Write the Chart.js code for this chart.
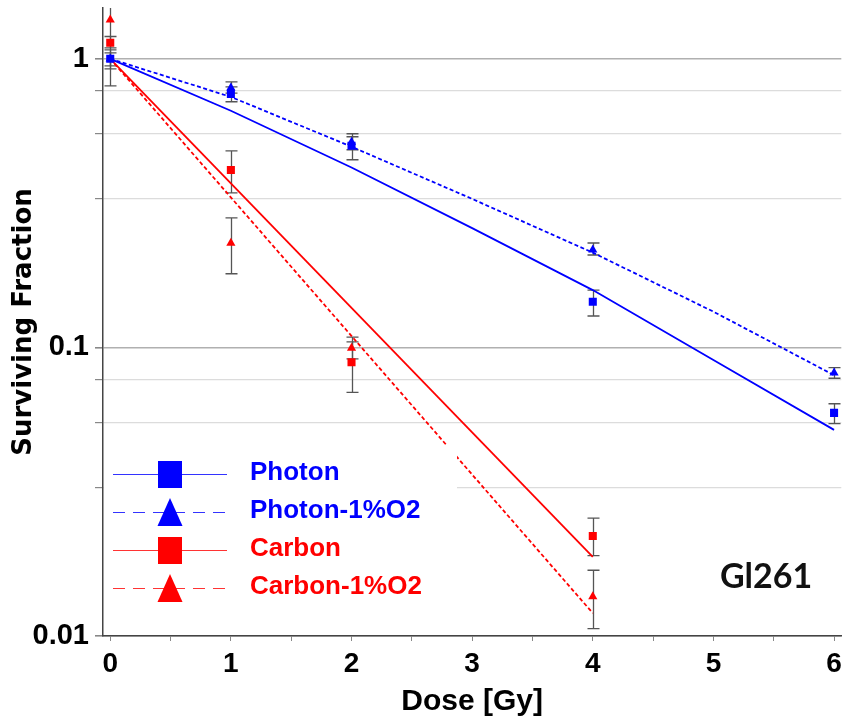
<!DOCTYPE html>
<html><head><meta charset="utf-8">
<script src="https://cdn.jsdelivr.net/npm/chart.js@4/dist/chart.umd.min.js"></script>
<style>html,body{margin:0;padding:0;background:#fff;}#wrap{width:847px;height:722px;}</style>
</head><body><div id="wrap"><canvas id="c" width="847" height="722"></canvas></div>
<script>
// ---------- data ----------
const seriesNames = ['Photon', 'Photon-1%O2', 'Carbon', 'Carbon-1%O2'];
const photonDoses = [0, 1, 2, 4, 6];
const carbonDoses = [0, 1, 2, 4];

const photonSF   = [1.0, 0.756, 0.500, 0.144, 0.0593];
const photonLo   = [0.946, 0.71, 0.447, 0.1285, 0.0544];
const photonHi   = [1.049, 0.80, 0.537, 0.158, 0.0638];

const photonO2SF = [1.0, 0.793, 0.515, 0.218, 0.0816];
const photonO2Lo = [0.923, 0.76, 0.484, 0.209, 0.0782];
const photonO2Hi = [1.074, 0.832, 0.55, 0.230, 0.0851];

const carbonSF   = [1.137, 0.412, 0.0889, 0.0222];
const carbonLo   = [1.092, 0.343, 0.0698, 0.0190];
const carbonHi   = [1.195, 0.480, 0.1045, 0.0256];

const carbonO2SF = [1.365, 0.230, 0.0995, 0.0137];
const carbonO2Lo = [0.806, 0.180, 0.0912, 0.0106];
const carbonO2Hi = [1.88, 0.281, 0.1086, 0.0169];

// fitted curves
const photonFitDoses = [0, 1, 2, 3, 4, 5, 6];
const photonFit      = [1.0, 0.661, 0.42, 0.259, 0.158, 0.0905, 0.0518];
const photonO2Fit    = [1.0, 0.738, 0.496, 0.327, 0.213, 0.133, 0.0801];
const carbonFitDoses = [0, 4];
const carbonFit      = [1.0, 0.0188];
const carbonO2Fit    = [1.0, 0.0120];

// axis ticks
const xTickValues = [0, 0.5, 1, 1.5, 2, 2.5, 3, 3.5, 4, 4.5, 5, 5.5, 6];
const xTickLabels = ['0', '', '1', '', '2', '', '3', '', '4', '', '5', '', '6'];
const yTickValues = [0.01, 0.0327, 0.055, 0.0775, 0.1, 0.327, 0.55, 0.775, 1];
const yTickLabels = ['0.01', '', '', '', '0.1', '', '', '', '1'];
const yMajor = [0.01, 0.1, 1];
const cellLineLabel = 'Gl261';

// ---------- build ----------
const BLUE = '#0000ff', RED = '#ff0000';
const pts = (xs, ys) => xs.map((x, i) => ({x: x, y: ys[i]}));

function fitDs(label, xs, ys, color, dashed) {
  return {type: 'line', label: label, data: pts(xs, ys), borderColor: color, backgroundColor: color,
    borderWidth: 1.8, borderDash: dashed ? [4, 2.5] : [], pointRadius: 0, tension: 0, order: 20, fill: false};
}
function markDs(label, xs, ys, lo, hi, color, style, order, row, dashed) {
  return {type: 'scatter', label: label, data: pts(xs, ys), errLo: lo, errHi: hi,
    pointStyle: style, pointRadius: style === 'rect' ? 5.7 : 5.3, pointBorderWidth: 0,
    backgroundColor: color, borderColor: color, order: order, legendRow: row, legendDashed: dashed, isMarker: true};
}

const datasets = [
  fitDs(seriesNames[0] + ' fit', photonFitDoses, photonFit, BLUE, false),
  fitDs(seriesNames[1] + ' fit', photonFitDoses, photonO2Fit, BLUE, true),
  fitDs(seriesNames[2] + ' fit', carbonFitDoses, carbonFit, RED, false),
  fitDs(seriesNames[3] + ' fit', carbonFitDoses, carbonO2Fit, RED, true),
  markDs(seriesNames[0], photonDoses, photonSF, photonLo, photonHi, BLUE, 'rect', 3, 0, false),
  markDs(seriesNames[1], photonDoses, photonO2SF, photonO2Lo, photonO2Hi, BLUE, 'triangle', 0, 1, true),
  markDs(seriesNames[2], carbonDoses, carbonSF, carbonLo, carbonHi, RED, 'rect', 2, 2, false),
  markDs(seriesNames[3], carbonDoses, carbonO2SF, carbonO2Lo, carbonO2Hi, RED, 'triangle', 1, 3, true)
];

const errorBars = {
  id: 'errorBars',
  beforeDatasetsDraw(chart) {
    const ctx = chart.ctx, xs = chart.scales.x, ys = chart.scales.y, a = chart.chartArea;
    ctx.save();
    ctx.beginPath(); ctx.rect(a.left, a.top, a.right - a.left, a.bottom - a.top); ctx.clip();
    ctx.strokeStyle = '#555'; ctx.lineWidth = 1.3;
    chart.data.datasets.forEach(ds => {
      if (!ds.errLo) return;
      ds.data.forEach((p, i) => {
        const x = Math.round(xs.getPixelForValue(p.x)) + 0.5;
        const y1 = ys.getPixelForValue(ds.errLo[i]);
        const y2 = ys.getPixelForValue(ds.errHi[i]);
        ctx.beginPath();
        ctx.moveTo(x, y1); ctx.lineTo(x, y2);
        ctx.moveTo(x - 6, y1); ctx.lineTo(x + 6, y1);
        ctx.moveTo(x - 6, y2); ctx.lineTo(x + 6, y2);
        ctx.stroke();
      });
    });
    ctx.restore();
  }
};

const boxLegend = {
  id: 'boxLegend',
  afterDatasetsDraw(chart) {
    const ctx = chart.ctx, a = chart.chartArea;
    ctx.save();
    ctx.fillStyle = '#ffffff';
    ctx.fillRect(a.left + 1, 445, 457 - a.left - 1, 175);
    const rowY = [474, 512, 550, 588];
    chart.data.datasets.filter(d => d.isMarker).forEach(ds => {
      const y = rowY[ds.legendRow];
      ctx.strokeStyle = ds.borderColor; ctx.lineWidth = 1.2;
      ctx.globalAlpha = 0.8;
      ctx.setLineDash(ds.legendDashed ? [12, 8] : []);
      ctx.beginPath(); ctx.moveTo(113, y + 0.5); ctx.lineTo(227, y + 0.5); ctx.stroke();
      ctx.setLineDash([]); ctx.globalAlpha = 1;
      ctx.fillStyle = ds.backgroundColor;
      if (ds.pointStyle === 'rect') {
        ctx.fillRect(158, y - 13, 24, 27);
      } else {
        ctx.beginPath(); ctx.moveTo(170, y - 14); ctx.lineTo(182.5, y + 14); ctx.lineTo(157.5, y + 14); ctx.closePath(); ctx.fill();
      }
      ctx.font = 'bold 26px "Liberation Sans", Arial, sans-serif';
      ctx.textBaseline = 'alphabetic'; ctx.textAlign = 'left';
      ctx.fillText(ds.label, 250, y + 6);
    });
    ctx.restore();
  },
  afterDraw(chart) {
    const ctx = chart.ctx;
    ctx.save();
    ctx.fillStyle = '#111';
    ctx.font = 'bold 34px Lato, "Open Sans", sans-serif';
    ctx.textAlign = 'center'; ctx.textBaseline = 'middle';
    ctx.fillText(cellLineLabel, 766, 577);
    ctx.restore();
  }
};

Chart.defaults.font.family = '"Liberation Sans", Arial, sans-serif';
Chart.defaults.color = '#000';

new Chart(document.getElementById('c'), {
  type: 'scatter',
  data: {datasets: datasets},
  options: {
    responsive: false, animation: false, devicePixelRatio: 1,
    layout: {padding: {top: 8, right: 2, left: 0, bottom: 0}},
    plugins: {legend: {display: false}, tooltip: {enabled: false}},
    scales: {
      x: {
        type: 'linear', min: -0.06, max: 6.06,
        afterBuildTicks: s => { s.ticks = xTickValues.map(v => ({value: v})); },
        ticks: {autoSkip: false, maxRotation: 0, padding: 6, color: '#000',
          font: {size: 28, weight: 'bold'},
          callback: (v, i) => xTickLabels[xTickValues.indexOf(v)]},
        grid: {drawOnChartArea: false, drawTicks: true, tickLength: 5, color: '#888', tickWidth: 1},
        border: {display: true, color: '#444', width: 1.5},
        title: {display: true, text: 'Dose [Gy]', color: '#000', font: {size: 30, weight: 'bold'}, padding: {top: 0, bottom: 2}},
        afterFit: s => { s.height = 86; s.paddingLeft = 0; s.paddingRight = 0; }
      },
      y: {
        type: 'logarithmic', min: 0.01, max: 1.5,
        afterBuildTicks: s => { s.ticks = yTickValues.map(v => ({value: v})); },
        ticks: {autoSkip: false, padding: 6, color: '#000', font: {size: 29, weight: 'bold'},
          callback: (v) => yTickLabels[yTickValues.indexOf(v)]},
        grid: {
          color: c => (c.tick && yMajor.includes(c.tick.value)) ? '#b0b0b0' : '#dcdcdc',
          lineWidth: c => (c.tick && yMajor.includes(c.tick.value)) ? 1.6 : 1.2,
          tickColor: '#888', tickLength: 8, drawTicks: true
        },
        border: {display: true, color: '#444', width: 1.5},
        title: {display: true, text: 'Surviving Fraction', color: '#000',
          font: {family: '"DejaVu Sans", sans-serif', size: 26, weight: 'bold'}, padding: {top: 9, bottom: 0}},
        afterFit: s => { s.width = 103; s.paddingTop = 0; s.paddingBottom = 0; }
      }
    }
  },
  plugins: [errorBars, boxLegend]
});
</script></body></html>
